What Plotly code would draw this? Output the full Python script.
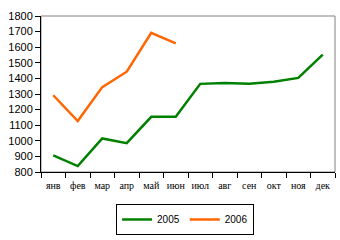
import plotly.graph_objects as go

months = ["янв", "фев", "мар", "апр", "май", "июн", "июл", "авг", "сен", "окт", "ноя", "дек"]
y2005 = [906, 838, 1015, 985, 1154, 1154, 1365, 1371, 1365, 1378, 1403, 1553]
y2006 = [1292, 1127, 1344, 1443, 1692, 1625]
yticks = [800, 900, 1000, 1100, 1200, 1300, 1400, 1500, 1600, 1700, 1800]

fig = go.Figure()
fig.add_trace(go.Scatter(x=months, y=y2005, mode="lines", name="2005",
                         line=dict(color="#008000", width=2.5)))
fig.add_trace(go.Scatter(x=months[:len(y2006)], y=y2006, mode="lines", name="2006",
                         line=dict(color="#FF6600", width=2.5)))

fig.add_shape(type="rect", xref="paper", yref="paper", x0=0, y0=0, x1=1, y1=1,
              line=dict(color="#808080", width=1), layer="below")

fig.update_layout(
    width=340, height=240,
    margin=dict(l=41, r=5, t=16, b=65),
    paper_bgcolor="white", plot_bgcolor="white",
    showlegend=True,
    legend=dict(orientation="h", x=0.49, xanchor="center", y=-0.205, yanchor="top",
                bordercolor="black", borderwidth=1,
                font=dict(family="Liberation Sans, Arial", size=10, color="black"),
                itemwidth=30, tracegroupgap=0, itemclick=False),
    xaxis=dict(categoryorder="array", categoryarray=months, range=[-0.5, 11.5],
               showline=True, linecolor="black", linewidth=1, showgrid=False,
               ticks="outside", tickson="boundaries", ticklen=5, tickcolor="black",
               tickangle=0, ticklabelstandoff=4,
               tickfont=dict(family="Liberation Serif, Times New Roman", size=10, color="black"),
               zeroline=False),
    yaxis=dict(range=[800, 1800], tickvals=yticks,
               showline=True, linecolor="black", linewidth=1, showgrid=False,
               ticks="outside", ticklen=5, tickcolor="black",
               tickfont=dict(family="Liberation Sans, Arial", size=11, color="black"),
               zeroline=False),
)

fig.write_html("out.html")
